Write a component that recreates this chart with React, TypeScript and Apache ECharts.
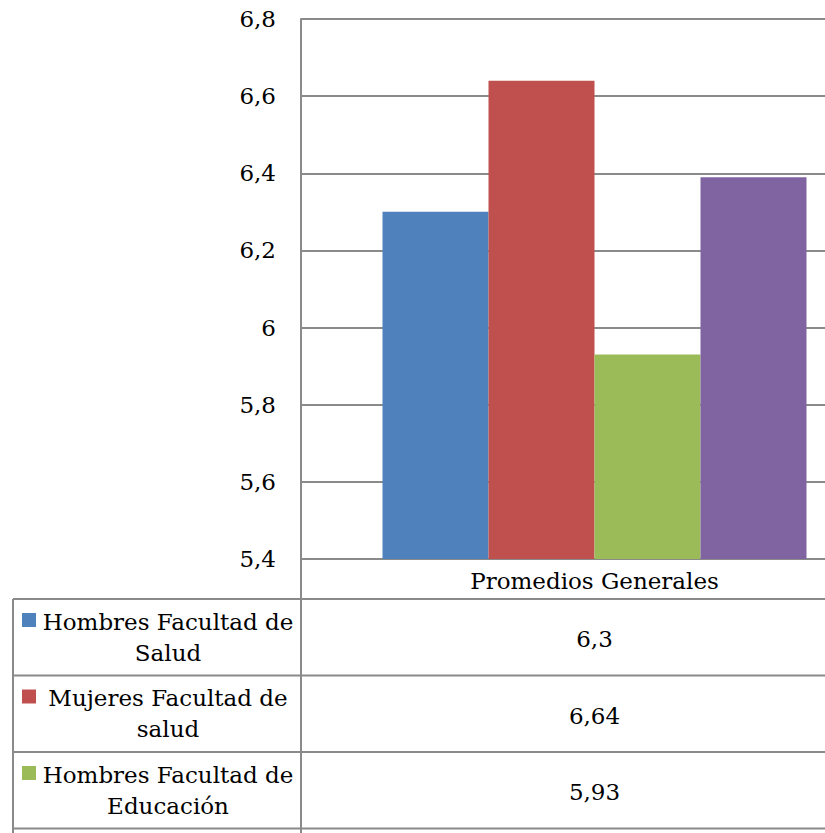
import React, { useEffect, useRef } from "react";
import * as echarts from "echarts";

// Chart data
const categories = ["Promedios Generales"];
const seriesNames = [
  "Hombres Facultad de Salud",
  "Mujeres Facultad de salud",
  "Hombres Facultad de Educación",
  "Mujeres Facultad de Educación",
];
const seriesValues = [6.3, 6.64, 5.93, 6.39];
const seriesColors = ["#4F81BD", "#C0504D", "#9BBB59", "#8064A2"];
const yTicks = { min: 5.4, max: 6.8, interval: 0.2 };

const FONT = "DejaVu Serif";
const FS = 23;
const LINE = "#8a8a8a";

// Layout of plot and data table
const VIEW_W = 825;
const VIEW_H = 833;
const CANVAS_W = 900;
const GRID_LEFT = 301;
const GRID_TOP = 19;
const GRID_HEIGHT = 540;
const GRID_WIDTH = 587;
const TABLE_TOP = 599;
const ROW_H = 76.5;
const TABLE_LEFT = 13;

const fmt = (v: number) => String(parseFloat(v.toFixed(2))).replace(".", ",");
const wrapName = (s: string) => s.replace(/ (\S+)$/, "\n$1");

export default function App() {
  const ref = useRef<HTMLDivElement>(null);

  useEffect(() => {
    if (!ref.current) return;
    const chart = echarts.init(ref.current, undefined, { renderer: "svg" });
    const valueCenterX = GRID_LEFT + GRID_WIDTH / 2;

    const graphic: any[] = [];
    // vertical separators of the table
    graphic.push({
      type: "line",
      shape: { x1: GRID_LEFT, y1: GRID_TOP + GRID_HEIGHT, x2: GRID_LEFT, y2: VIEW_H + 10 },
      style: { stroke: LINE, lineWidth: 2 },
    });
    graphic.push({
      type: "line",
      shape: { x1: TABLE_LEFT, y1: TABLE_TOP, x2: TABLE_LEFT, y2: VIEW_H + 10 },
      style: { stroke: LINE, lineWidth: 2 },
    });
    seriesNames.forEach((name, i) => {
      const top = TABLE_TOP + i * ROW_H;
      const mid = top + ROW_H / 2;
      graphic.push({
        type: "line",
        shape: { x1: TABLE_LEFT, y1: top, x2: CANVAS_W, y2: top },
        style: { stroke: LINE, lineWidth: 2 },
      });
      // rows that start below the visible page are only ruled
      if (top + 20 > VIEW_H) return;
      graphic.push({
        type: "rect",
        shape: { x: 22, y: top + 14, width: 14, height: 14 },
        style: { fill: seriesColors[i] },
      });
      graphic.push({
        type: "text",
        x: 168,
        y: mid,
        style: {
          text: wrapName(name),
          fontSize: FS,
          fontFamily: FONT,
          fill: "#000",
          align: "center",
          verticalAlign: "middle",
          lineHeight: 31,
        },
      });
      graphic.push({
        type: "text",
        x: valueCenterX,
        y: mid + 2,
        style: {
          text: fmt(seriesValues[i]),
          fontSize: FS,
          fontFamily: FONT,
          fill: "#000",
          align: "center",
          verticalAlign: "middle",
        },
      });
    });

    chart.setOption({
      animation: false,
      textStyle: { fontFamily: FONT },
      grid: { left: GRID_LEFT, top: GRID_TOP, width: GRID_WIDTH, height: GRID_HEIGHT, containLabel: false },
      xAxis: {
        type: "category",
        data: categories,
        axisLine: { show: true, lineStyle: { color: LINE, width: 2 } },
        axisTick: { show: false },
        axisLabel: { color: "#000", fontSize: FS, fontFamily: FONT, lineHeight: 28, margin: 8 },
      },
      yAxis: {
        type: "value",
        min: yTicks.min,
        max: yTicks.max,
        interval: yTicks.interval,
        axisLine: { show: true, lineStyle: { color: LINE, width: 2 } },
        axisTick: { show: false },
        splitLine: { show: true, lineStyle: { color: LINE, width: 2 } },
        axisLabel: {
          color: "#000",
          fontSize: FS,
          fontFamily: FONT,
          margin: 25,
          formatter: (v: number) => fmt(v),
        },
      },
      series: seriesNames.map((name, i) => ({
        type: "bar",
        name,
        data: [seriesValues[i]],
        barWidth: 106,
        barGap: "0%",
        itemStyle: { color: seriesColors[i] },
      })),
      graphic,
    });
    return () => chart.dispose();
  }, []);

  return (
    <div
      style={{
        position: "fixed",
        left: 0,
        top: 0,
        width: VIEW_W,
        height: VIEW_H,
        overflow: "hidden",
        background: "#fff",
      }}
    >
      <div ref={ref} style={{ width: CANVAS_W, height: VIEW_H }} />
    </div>
  );
}
